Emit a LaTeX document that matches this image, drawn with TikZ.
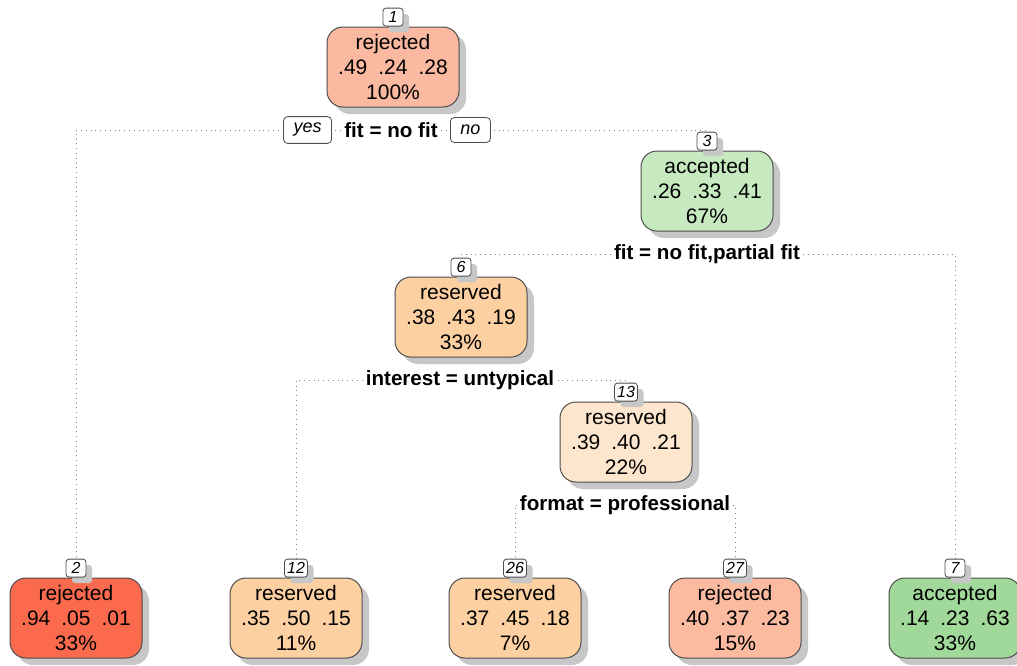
\documentclass[tikz,border=0pt]{standalone}
\usepackage{fontspec}
\setmainfont{Liberation Sans}
\usetikzlibrary{positioning,shadows}
\definecolor{rejlight}{RGB}{250,185,160}
\definecolor{rejdark}{RGB}{252,106,78}
\definecolor{rejmid}{RGB}{252,187,161}
\definecolor{acclight}{RGB}{199,233,192}
\definecolor{accmid}{RGB}{161,217,155}
\definecolor{resmid}{RGB}{253,208,162}
\definecolor{respale}{RGB}{254,230,206}
\NewDocumentCommand\probs{mmm}{#1\hspace{5.5pt}#2\hspace{5.5pt}#3}

\begin{document}
\begin{tikzpicture}[x=0.5pt,y=-0.5pt,
    leaf/.style={draw=black!70, line width=0.5pt, rounded corners=8pt,
      minimum width=66pt, minimum height=40pt, align=center, inner sep=1pt,
      font=\fontsize{10.5}{12.3}\selectfont,
      drop shadow={shadow xshift=3.5pt, shadow yshift=-3.5pt, fill=black!22, opacity=1}},
    nr/.style={draw=black!70, line width=0.4pt, fill=white, rounded corners=1.5pt,
      minimum width=10pt, minimum height=9pt, inner sep=1.3pt,
      font=\fontsize{8}{8}\selectfont\itshape,
      drop shadow={shadow xshift=3pt, shadow yshift=-3pt, fill=black!22, opacity=1}},
    split/.style={fill=white, inner sep=1.5pt, font=\fontsize{10.3}{12}\selectfont\bfseries},
    yesno/.style={draw=black!70, line width=0.4pt, fill=white, rounded corners=2pt,
      minimum height=12.5pt, inner xsep=5pt, font=\fontsize{9}{9}\selectfont\itshape},
    branch/.style={draw=black!50, dotted, line width=0.4pt}]
  \useasboundingbox (0,0) rectangle (1017,665);

  % inner nodes
  \node[leaf, fill=rejlight] (n1) at (393,67) {rejected\\\probs{.49}{.24}{.28}\\100\%};
  \node[nr, above=0pt of n1] (n1nr) {1};
  \node[split] (s1) at (391,130) {fit = no fit};

  \node[leaf, fill=acclight] (n3) at (707,191) {accepted\\\probs{.26}{.33}{.41}\\67\%};
  \node[nr, above=0pt of n3] (n3nr) {3};
  \node[split] (s3) at (707,254) {fit = no fit,partial fit};

  \node[leaf, fill=resmid] (n6) at (461,317) {reserved\\\probs{.38}{.43}{.19}\\33\%};
  \node[nr, above=0pt of n6] (n6nr) {6};
  \node[split] (s6) at (460,380) {interest = untypical};

  \node[leaf, fill=respale] (n13) at (626,442) {reserved\\\probs{.39}{.40}{.21}\\22\%};
  \node[nr, above=0pt of n13] (n13nr) {13};
  \node[split] (s13) at (625,505) {format = professional};

  % leaves
  \node[leaf, fill=rejdark] (n2) at (76,618) {rejected\\\probs{.94}{.05}{.01}\\33\%};
  \node[nr, above=0pt of n2] (n2nr) {2};
  \node[leaf, fill=resmid] (n12) at (296,618) {reserved\\\probs{.35}{.50}{.15}\\11\%};
  \node[nr, above=0pt of n12] (n12nr) {12};
  \node[leaf, fill=resmid] (n26) at (515,618) {reserved\\\probs{.37}{.45}{.18}\\7\%};
  \node[nr, above=0pt of n26] (n26nr) {26};
  \node[leaf, fill=rejmid] (n27) at (735,618) {rejected\\\probs{.40}{.37}{.23}\\15\%};
  \node[nr, above=0pt of n27] (n27nr) {27};
  \node[leaf, fill=accmid] (n7) at (955,618) {accepted\\\probs{.14}{.23}{.63}\\33\%};
  \node[nr, above=0pt of n7] (n7nr) {7};

  % branches
  \draw[branch] (s1.west) -| (n2nr.north);
  \draw[branch] (s1.east) -| (n3nr.north);
  \draw[branch] (s3.west) -| (n6nr.north);
  \draw[branch] (s3.east) -| (n7nr.north);
  \draw[branch] (s6.west) -| (n12nr.north);
  \draw[branch] (s6.east) -| (n13nr.north);
  \draw[branch] (s13.west) -| (n26nr.north);
  \draw[branch] (s13.east) -| (n27nr.north);

  \node[yesno, left=4.5pt of s1] (yes) {yes};
  \node[yesno, right=4.5pt of s1] (no) {no};
\end{tikzpicture}
\end{document}
